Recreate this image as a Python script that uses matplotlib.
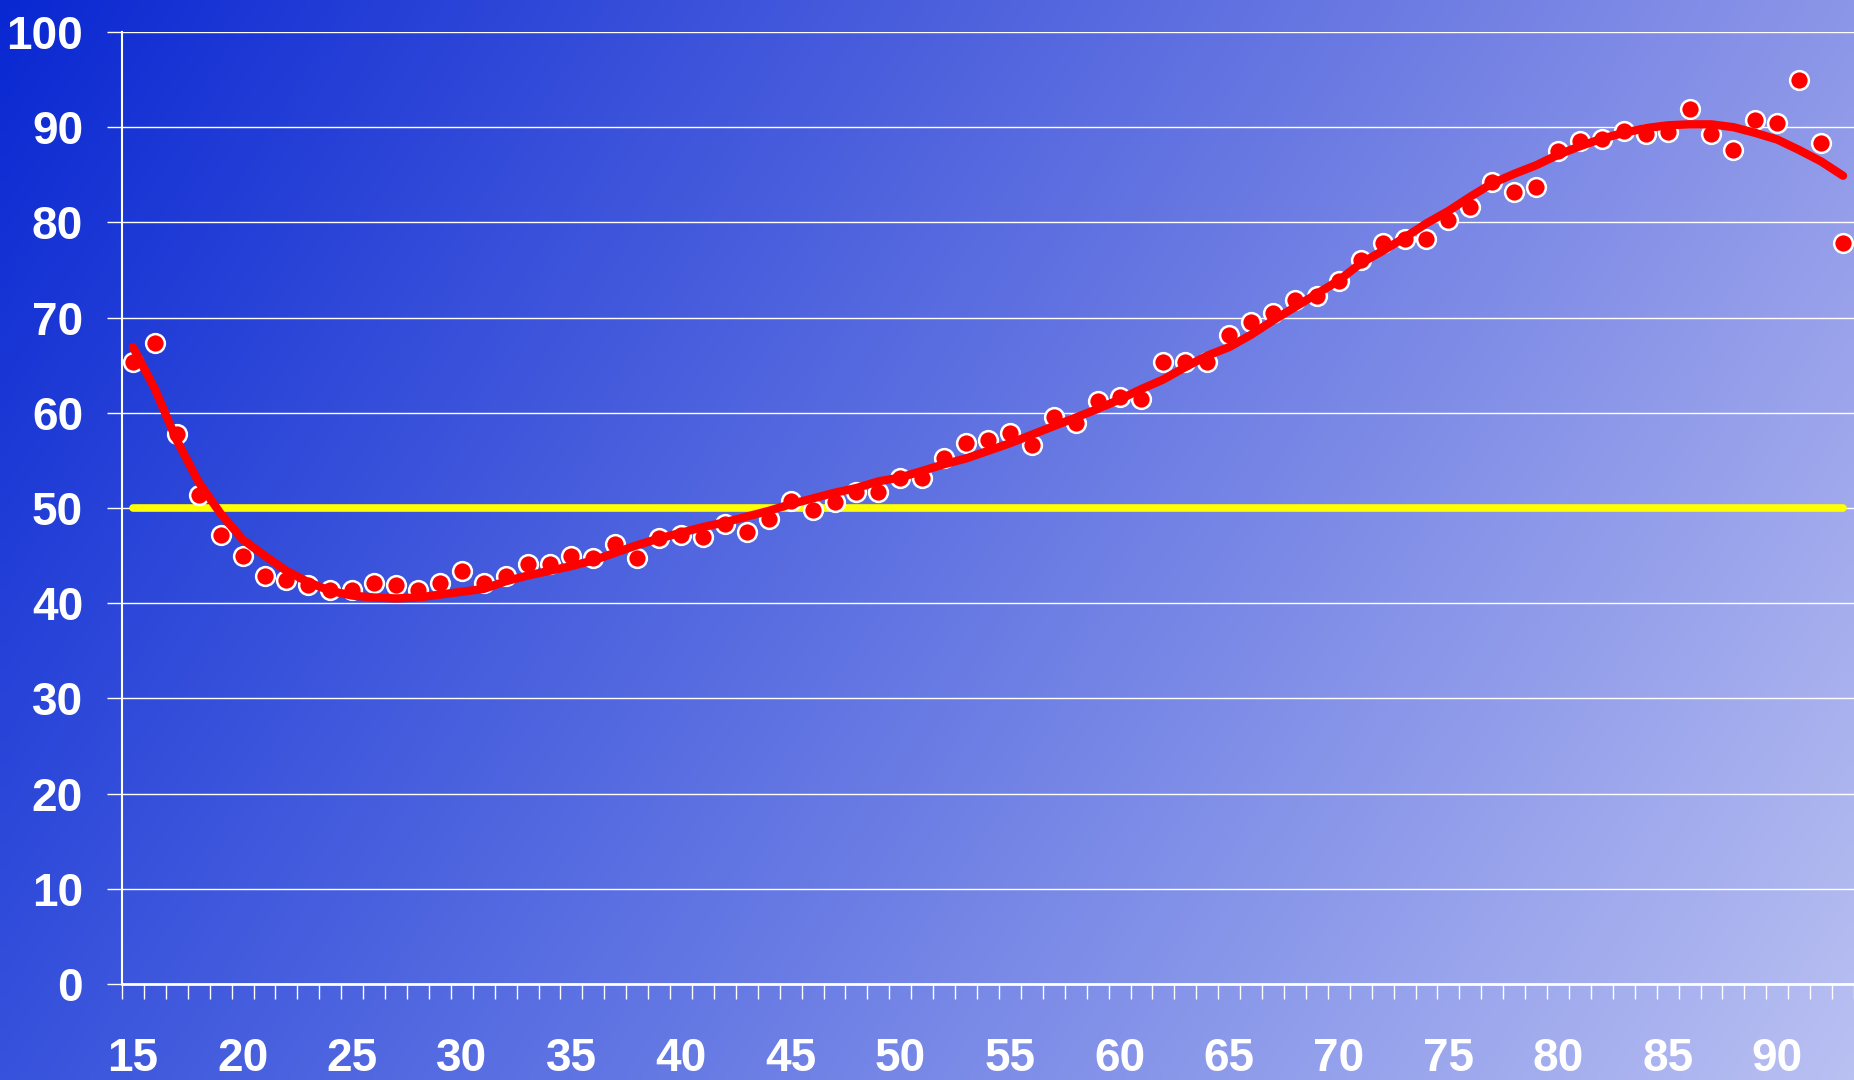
import numpy as np
import matplotlib.pyplot as plt
from matplotlib.ticker import FixedLocator

# ── data ────────────────────────────────────────────────────
ages = list(range(15, 94))
observed = [65.3, 67.3, 57.8, 51.4, 47.2, 45.0, 42.9, 42.4, 41.9, 41.4,   # 15-24
            41.4, 42.1, 41.9, 41.4, 42.1, 43.4, 42.1, 42.9, 44.1, 44.1,   # 25-34
            45.0, 44.7, 46.2, 44.7, 46.8, 47.2, 47.0, 48.3, 47.5, 48.8,   # 35-44
            50.7, 49.8, 50.6, 51.7, 51.7, 53.2, 53.2, 55.3, 56.8, 57.1,   # 45-54
            57.9, 56.6, 59.6, 58.9, 61.2, 61.7, 61.5, 65.3, 65.3, 65.3,   # 55-64
            68.2, 69.5, 70.5, 71.8, 72.3, 73.8, 76.0, 77.8, 78.3, 78.3,   # 65-74
            80.3, 81.6, 84.2, 83.2, 83.7, 87.5, 88.6, 88.8, 89.6, 89.3,   # 75-84
            89.5, 91.9, 89.3, 87.6, 90.8, 90.4, 95.0, 88.3, 77.8]         # 85-93
trend = [66.9, 62.5, 57.1, 52.7, 49.4, 46.7, 45.0, 43.4, 42.2, 41.3,      # 15-24
         40.8, 40.6, 40.5, 40.6, 40.9, 41.2, 41.5, 42.3, 42.9, 43.4,      # 25-34
         43.9, 44.5, 45.3, 46.1, 46.8, 47.4, 48.0, 48.5, 49.1, 49.7,      # 35-44
         50.4, 51.0, 51.6, 52.1, 52.8, 53.2, 53.9, 54.6, 55.2, 56.0,      # 45-54
         56.8, 57.7, 58.6, 59.5, 60.4, 61.4, 62.5, 63.5, 64.8, 66.0,      # 55-64
         66.9, 68.2, 69.7, 71.1, 72.5, 73.9, 75.7, 77.0, 78.4, 79.9,      # 65-74
         81.2, 82.7, 84.1, 85.1, 86.0, 87.1, 88.0, 88.8, 89.4, 89.9,      # 75-84
         90.2, 90.3, 90.3, 90.0, 89.4, 88.7, 87.6, 86.4, 84.9]            # 85-93
threshold = 50
y_ticks = list(range(0, 101, 10))
x_labelled = list(range(15, 91, 5))

# ── figure + gradient background ────────────────────────────
fig = plt.figure(figsize=(18.54, 10.8), dpi=100)
bg = fig.add_axes([0, 0, 1, 1], zorder=-10)
tl = np.array([10, 40, 210]) / 255
tr = np.array([140, 150, 232]) / 255
bl = np.array([55, 82, 220]) / 255
br = np.array([185, 192, 242]) / 255
u = np.linspace(0, 1, 200)[None, :, None]
v = np.linspace(0, 1, 120)[:, None, None]
grad = (1 - v) * ((1 - u) * tl + u * tr) + v * ((1 - u) * bl + u * br)
bg.imshow(grad, extent=[0, 1, 0, 1], aspect='auto', interpolation='bilinear')
bg.axis('off')

ax = fig.add_axes([122 / 1854, 96 / 1080, 1 - 122 / 1854, 952 / 1080])
ax.set_facecolor('none')

ax.plot(ages, [threshold] * len(ages), color='#ffff00', lw=5.5,
        solid_capstyle='round', zorder=3)
ax.plot(ages, observed, 'o', color='#ff0000', ms=13.5, mec='white', mew=1.8,
        zorder=4)
ax.plot(ages, trend, color='#ff0000', lw=6, solid_capstyle='round',
        solid_joinstyle='round', zorder=5)

ax.set_xlim(ages[0] - 0.5, ages[-1] + 0.5)
ax.set_ylim(0, 100)

for s in ['top', 'right']:
    ax.spines[s].set_visible(False)
ax.spines['left'].set_color('white')
ax.spines['left'].set_linewidth(1.5)
ax.spines['bottom'].set_color('white')
ax.spines['bottom'].set_linewidth(2)

ax.yaxis.set_major_locator(FixedLocator(y_ticks))
ax.yaxis.grid(True, color='white', lw=1.0)
ax.set_axisbelow(True)
ax.tick_params(axis='y', colors='white', length=11, width=1, pad=17,
               labelsize=33)

ax.xaxis.set_major_locator(FixedLocator(x_labelled))
ax.xaxis.set_minor_locator(FixedLocator([a - 0.5 for a in ages] + [ages[-1] + 0.5]))
ax.tick_params(axis='x', which='major', length=0, pad=38, colors='white',
               labelsize=33)
ax.tick_params(axis='x', which='minor', length=11, width=1, color='white')

for lab in ax.get_xticklabels() + ax.get_yticklabels():
    lab.set_family('Liberation Sans')
    lab.set_fontweight('bold')
    lab.set_color('white')

fig.savefig('out.png', dpi=100)
